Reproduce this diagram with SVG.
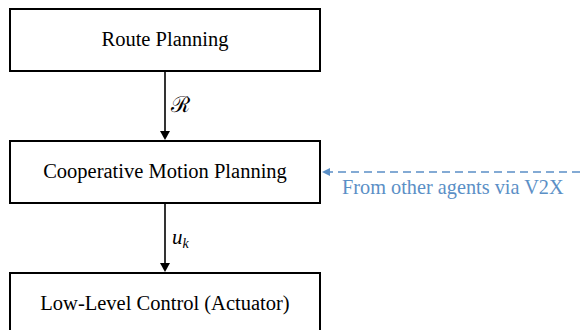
<svg xmlns="http://www.w3.org/2000/svg" width="580" height="330" viewBox="0 0 580 330">
<style>
.box{fill:#fff;stroke:#000;stroke-width:2}
.lbl{font-family:"Liberation Serif",serif;font-size:20.5px;fill:#000;text-anchor:middle}
.edge{stroke:#000;stroke-width:1.6;fill:none}
.v2x{stroke:#5b8fc6;stroke-width:1.6;fill:none;stroke-dasharray:8,5}
.math{font-family:"Liberation Serif",serif;font-size:21px;font-style:italic}
.note{font-family:"Liberation Serif",serif;font-size:20.3px;fill:#5b8fc6}
</style>
<g id="route"><rect class="box" x="10" y="9" width="310" height="62"/><text class="lbl" x="165" y="46">Route Planning</text></g>
<g id="coop"><rect class="box" x="10" y="141" width="310" height="62"/><text class="lbl" x="165" y="178">Cooperative Motion Planning</text></g>
<g id="low"><rect class="box" x="10" y="273" width="310" height="70"/><text class="lbl" x="165" y="310">Low-Level Control (Actuator)</text></g>
<g id="connectors">
<line class="edge" x1="165" y1="72" x2="165" y2="133"/>
<path d="M160,131 L170,131 L165,140 z" fill="#000"/>
<text class="math" x="171" y="112" style="font-style:normal;font-family:'DejaVu Serif',serif;font-size:22px">ℛ</text>
<line class="edge" x1="165" y1="204" x2="165" y2="265"/>
<path d="M160,263 L170,263 L165,272 z" fill="#000"/>
<text class="math" x="172" y="244">u<tspan font-size="14" dy="4">k</tspan></text>
<line class="v2x" x1="580" y1="172" x2="330" y2="172"/>
<path d="M330,168 L330,176 L322,172 z" fill="#5b8fc6"/>
<text class="note" x="342" y="194">From other agents via V2X</text>
</g>
</svg>
